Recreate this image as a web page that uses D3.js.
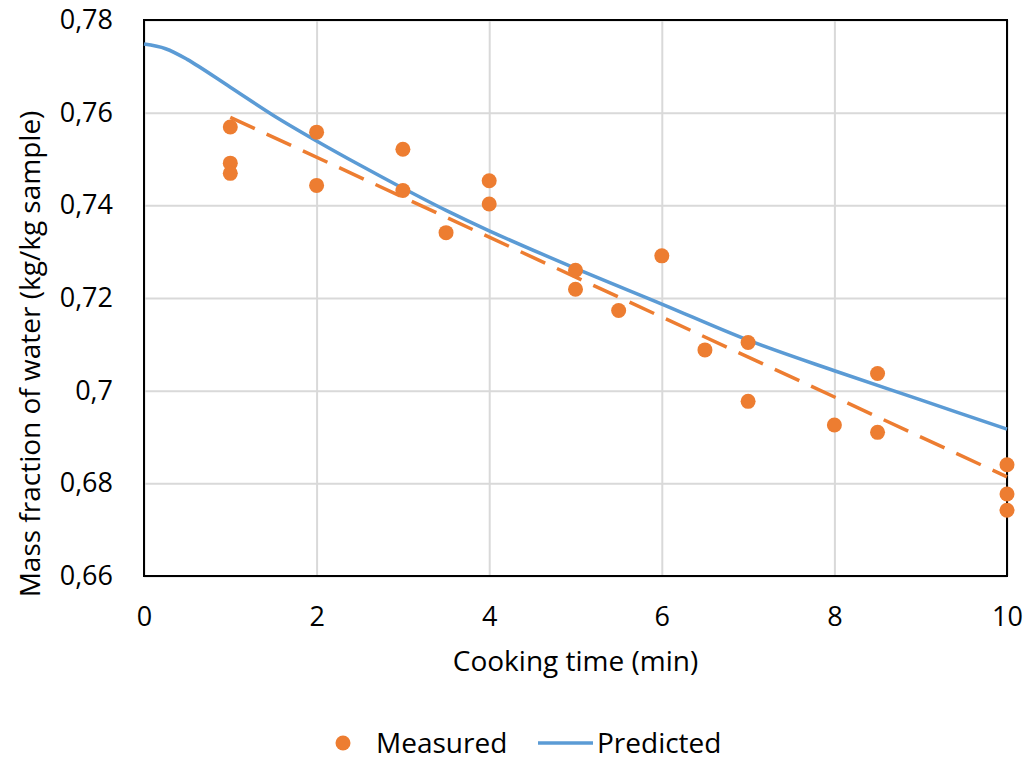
<!DOCTYPE html>
<html>
<head>
<meta charset="utf-8">
<script src="https://cdn.jsdelivr.net/npm/d3@7"></script>
<style>
  body { margin: 0; background: #fff; }
  svg text { font-family: "Open Sans", "Liberation Sans", sans-serif; fill: #000; }
</style>
</head>
<body>
<svg id="chart"></svg>
<script>
var svgWidth = 1029;
var svgHeight = 761;
var margin = {top: 20, right: 22, bottom: 185, left: 144};

// measured points (cooking time, mass fraction)
var measuredTime = [1, 1, 1, 2, 2, 3, 3, 3.5, 4, 4, 5, 5, 5.5, 6, 6.5, 7, 7, 8, 8.5, 8.5, 10, 10, 10];
var measuredWater = [0.7569, 0.7491, 0.7469, 0.7558, 0.7443, 0.7521, 0.7432, 0.7341, 0.7453, 0.7403,
	0.7260, 0.7219, 0.7173, 0.7291, 0.7088, 0.7104, 0.6977, 0.6926, 0.7037, 0.6910, 0.6840, 0.6777, 0.6742];

// model prediction
var predictedTime = [0, 0.25, 0.5, 1, 1.5, 2, 2.5, 3, 3.5, 4, 5, 6, 7, 8, 9, 10];
var predictedWater = [0.7748, 0.7738, 0.7715, 0.7655, 0.7594, 0.7539, 0.7487, 0.7437, 0.7389,
	0.7345, 0.7264, 0.7187, 0.7109, 0.7043, 0.6980, 0.6917];

// linear trendline of the measured points (end points)
var trendTime = [1, 10];
var trendWater = [0.7590, 0.6814];

var xTicks = [0, 2, 4, 6, 8, 10];
var yTicks = [0.66, 0.68, 0.70, 0.72, 0.74, 0.76, 0.78];

var orange = '#ED7D31';
var blue = '#5B9BD5';

var svg = d3.select('#chart')
	.attr('width', svgWidth)
	.attr('height', svgHeight);

var xScale = d3.scaleLinear()
	.domain([0, 10])
	.range([margin.left, svgWidth - margin.right]);
var yScale = d3.scaleLinear()
	.domain([0.66, 0.78])
	.range([svgHeight - margin.bottom, margin.top]);

var fmt = d => String(+d.toFixed(2)).replace('.', ',');

// gridlines
svg.append('g')
	.attr('transform', `translate(0,${svgHeight - margin.bottom})`)
	.call(d3.axisBottom(xScale).tickValues(xTicks)
		.tickSize(-(svgHeight - margin.top - margin.bottom)).tickFormat(''))
	.call(g => g.select('.domain').remove())
	.selectAll('line').attr('stroke', '#d9d9d9').attr('stroke-width', 2);
svg.append('g')
	.attr('transform', `translate(${margin.left},0)`)
	.call(d3.axisLeft(yScale).tickValues(yTicks)
		.tickSize(-(svgWidth - margin.left - margin.right)).tickFormat(''))
	.call(g => g.select('.domain').remove())
	.selectAll('line').attr('stroke', '#d9d9d9').attr('stroke-width', 2);

// tick labels
svg.append('g')
	.attr('transform', `translate(0,${svgHeight - margin.bottom})`)
	.call(d3.axisBottom(xScale).tickValues(xTicks).tickSize(0).tickPadding(31))
	.call(g => g.select('.domain').remove())
	.selectAll('text')
	.style('font-size', '27px');
svg.append('g')
	.attr('transform', `translate(${margin.left},0)`)
	.call(d3.axisLeft(yScale).tickValues(yTicks).tickSize(0).tickPadding(31).tickFormat(fmt))
	.call(g => g.select('.domain').remove())
	.selectAll('text')
	.style('font-size', '27px');

// plot border
svg.append('rect')
	.attr('x', margin.left)
	.attr('y', margin.top)
	.attr('width', svgWidth - margin.left - margin.right)
	.attr('height', svgHeight - margin.top - margin.bottom)
	.attr('fill', 'none')
	.attr('stroke', '#000')
	.attr('stroke-width', 2);

// predicted curve
var predLine = d3.line()
	.x(d => xScale(d[0]))
	.y(d => yScale(d[1]))
	.curve(d3.curveCatmullRom.alpha(0.5));
svg.append('path')
	.datum(d3.zip(predictedTime, predictedWater))
	.attr('d', predLine)
	.attr('fill', 'none')
	.attr('stroke', blue)
	.attr('stroke-width', 3.5);

// trendline
svg.append('path')
	.datum(d3.zip(trendTime, trendWater))
	.attr('d', d3.line().x(d => xScale(d[0])).y(d => yScale(d[1])))
	.attr('fill', 'none')
	.attr('stroke', orange)
	.attr('stroke-width', 3.5)
	.attr('stroke-dasharray', '27,13');

// measured points
svg.append('g')
	.selectAll('circle')
	.data(d3.zip(measuredTime, measuredWater))
	.enter()
	.append('circle')
	.attr('cx', d => xScale(d[0]))
	.attr('cy', d => yScale(d[1]))
	.attr('r', 7.5)
	.attr('fill', orange);

// axis titles
svg.append('text')
	.attr('x', (margin.left + svgWidth - margin.right) / 2)
	.attr('y', 671)
	.attr('text-anchor', 'middle')
	.style('font-size', '28px')
	.text('Cooking time (min)');
svg.append('text')
	.attr('transform', 'rotate(-90)')
	.attr('x', -354)
	.attr('y', 40)
	.attr('text-anchor', 'middle')
	.style('font-size', '28px')
	.text('Mass fraction of water (kg/kg sample)');

// legend
var legend = svg.append('g').attr('transform', 'translate(0,743)');
legend.append('circle')
	.attr('cx', 343)
	.attr('cy', 0)
	.attr('r', 7.5)
	.attr('fill', orange);
legend.append('text')
	.attr('x', 376)
	.attr('y', 10)
	.style('font-size', '28px')
	.text('Measured');
legend.append('line')
	.attr('x1', 538)
	.attr('x2', 593)
	.attr('y1', 0)
	.attr('y2', 0)
	.attr('stroke', blue)
	.attr('stroke-width', 3.5);
legend.append('text')
	.attr('x', 597)
	.attr('y', 10)
	.style('font-size', '28px')
	.text('Predicted');
</script>
</body>
</html>
